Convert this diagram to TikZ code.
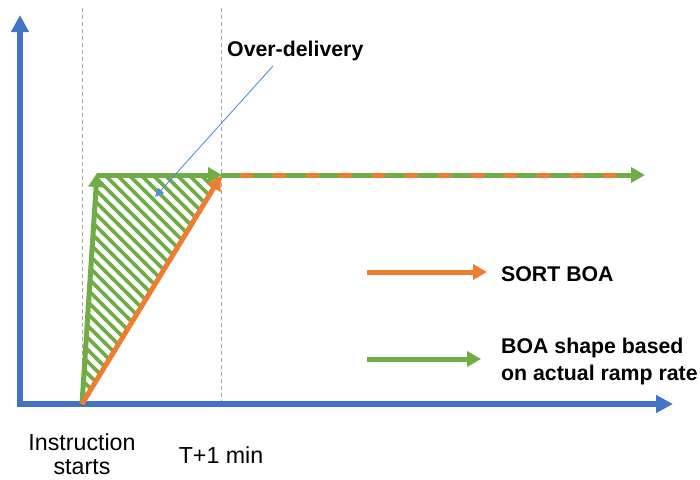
\documentclass[tikz,border=0pt]{standalone}
\usepackage{fontspec}
\setmainfont{Liberation Sans}
\usetikzlibrary{arrows.meta}
\definecolor{axisblue}{HTML}{4472C4}
\definecolor{rampgreen}{HTML}{70AD47}
\definecolor{sortorange}{HTML}{ED7D31}
\definecolor{guidegray}{HTML}{A6A6A6}
\definecolor{pointerblue}{HTML}{5B8BD6}
\tikzset{
  axisline/.style={draw=axisblue, line width=6pt, -{Triangle[length=17pt,width=17pt]}},
  guideline/.style={draw=guidegray, line width=0.9pt, dash pattern=on 4pt off 3pt},
  greenarrow/.style={draw=rampgreen, line width=5pt, -{Triangle[length=14pt,width=15pt]}},
  orangearrow/.style={draw=sortorange, line width=5pt, -{Triangle[length=14pt,width=15pt]}},
  hatchline/.style={draw=rampgreen, line width=3.8pt},
  boldlabel/.style={font=\bfseries\fontsize{21.3}{27}\selectfont, inner sep=0pt, anchor=base west, align=left},
  plainlabel/.style={font=\fontsize{23.2}{24.5}\selectfont, inner sep=0pt, anchor=base, align=center},
}
\begin{document}
\begin{tikzpicture}[x=1pt, y=-1pt]
\useasboundingbox (0,0) rectangle (700,479);

% key points of the chart
\coordinate (origin) at (20,404);
\coordinate (ytip) at (20,15);
\coordinate (xtip) at (673,404);
\coordinate (start) at (82,404);
\coordinate (rampTop) at (97,173);
\coordinate (plateauL) at (97,175);
\coordinate (plateauR) at (222,175);
\coordinate (sortTop) at (221,176);
\coordinate (lineEnd) at (645,175);

% vertical time guides
\draw[guideline] (82,8) -- (82,404);
\draw[guideline] (221,8) -- (221,404);

% hatched over-delivery area
\begin{scope}
  \clip (start) -- (rampTop) -- (sortTop) -- cycle;
  \foreach \c in {-334,-322,...,60}
    \draw[hatchline] (\c+100,100) -- (\c+430,430);
\end{scope}

% axes
\draw[axisline] (20,406) -- (ytip);
\draw[axisline] (17,404) -- (xtip);

% actual ramp and plateau
\draw[greenarrow] (start) -- (rampTop);
\draw[greenarrow] (plateauL) -- (plateauR);
% SORT ramp
\draw[orangearrow] (start) -- (sortTop);

% shared plateau after T+1 min
\draw[greenarrow] (221,175) -- (lineEnd);
\draw[draw=sortorange, line width=5pt, dash pattern=on 13pt off 20pt] (240,175) -- (617,175);

% annotation
\node[boldlabel] (over) at (227,56.5) {Over-delivery};
\coordinate (pointFrom) at (273,66);
\coordinate (pointTo) at (155,197);
\draw[draw=pointerblue, line width=0.9pt, -{Triangle[length=9pt,width=8pt]}] (pointFrom) -- (pointTo);

% legend
\coordinate (legA1) at (367,272);
\coordinate (legA2) at (487,272);
\coordinate (legB1) at (367,359);
\coordinate (legB2) at (481,359);
\draw[orangearrow] (legA1) -- (legA2);
\draw[greenarrow] (legB1) -- (legB2);
\node[boldlabel] (sortlab) at (501,281) {SORT BOA};
\node[boldlabel] (boalab) at (501,380) {BOA shape based\\on actual ramp rate};

% time labels
\node[plainlabel] (instr) at (82,474.5) {Instruction\\starts};
\node[plainlabel] (tplus) at (221,463) {T+1 min};
\end{tikzpicture}
\end{document}
